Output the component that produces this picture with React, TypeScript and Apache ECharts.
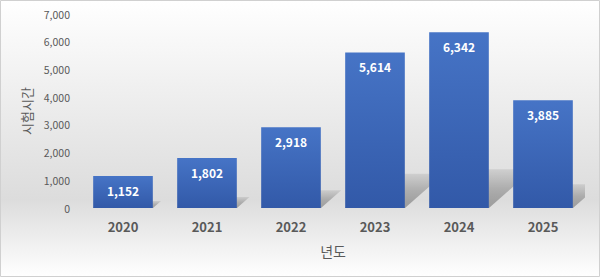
import React, { useEffect, useRef } from "react";
import * as echarts from "echarts";

const years = ["2020", "2021", "2022", "2023", "2024", "2025"];
const hours = [1152, 1802, 2918, 5614, 6342, 3885];
const yTicks = [0, 1000, 2000, 3000, 4000, 5000, 6000, 7000];
const yAxisName = "시험시간";
const xAxisName = "년도";

const FONT = "'Noto Sans CJK KR', 'Noto Sans', sans-serif";

export default function App() {
  const ref = useRef<HTMLDivElement>(null);
  useEffect(() => {
    if (!ref.current) return;
    const chart = echarts.init(ref.current, null, { renderer: "svg" });
    chart.setOption({
      animation: false,
      backgroundColor: new echarts.graphic.LinearGradient(0, 0, 0, 1, [
        { offset: 0, color: "#ffffff" },
        { offset: 0.72, color: "#dcdcdc" },
        { offset: 1, color: "#ffffff" },
      ]),
      graphic: [
        {
          type: "rect",
          shape: { x: 0.5, y: 0.5, width: 599, height: 276 },
          style: { fill: "none", stroke: "#d0d0d0", lineWidth: 1 },
          silent: true,
        },
      ],
      grid: { left: 81, right: 15, top: 14, bottom: 69 },
      xAxis: {
        type: "category",
        data: years,
        axisLine: { show: false },
        axisTick: { show: false },
        axisLabel: {
          color: "#595959",
          fontSize: 13,
          fontWeight: "bold",
          fontFamily: FONT,
          margin: 12,
        },
        name: xAxisName,
        nameLocation: "middle",
        nameGap: 36,
        nameTextStyle: { color: "#595959", fontSize: 14, fontFamily: FONT },
      },
      yAxis: {
        type: "value",
        min: yTicks[0],
        max: yTicks[yTicks.length - 1],
        interval: 1000,
        splitLine: { show: false },
        axisLine: { show: false },
        axisTick: { show: false },
        axisLabel: {
          color: "#595959",
          fontSize: 10.5,
          fontFamily: FONT,
          margin: 11,
          formatter: (v: number) => v.toLocaleString("en-US"),
        },
        name: yAxisName,
        nameLocation: "middle",
        nameGap: 48,
        nameRotate: 90,
        nameTextStyle: { color: "#595959", fontSize: 13, fontFamily: FONT },
      },
      series: [
        {
          type: "custom",
          z: 1,
          clip: true,
          data: hours.map((v, i) => [i, v]),
          renderItem: (params: any, api: any) => {
            const idx = api.value(0);
            const v = api.value(1);
            const base = api.coord([idx, 0]);
            const top = api.coord([idx, v]);
            const size = api.size([1, 0]);
            const bw = size[0] * 0.714;
            const h = base[1] - top[1];
            const x0 = base[0] - bw / 2;
            const x1 = base[0] + bw / 2;
            const y0 = base[1];
            const dy = h * 0.22;
            const dx = h * 0.25;
            return {
              type: "polygon",
              shape: {
                points: [
                  [x0, y0],
                  [x1, y0],
                  [x1 + dx, y0 - dy],
                  [x0 + dx, y0 - dy],
                ],
              },
              style: {
                fill: new echarts.graphic.LinearGradient(0, 0, 0, 1, [
                  { offset: 0, color: "rgba(0,0,0,0.08)" },
                  { offset: 0.5, color: "rgba(0,0,0,0.22)" },
                  { offset: 1, color: "rgba(0,0,0,0.3)" },
                ]),
              },
            };
          },
        },
        {
          type: "bar",
          z: 2,
          data: hours,
          barWidth: "71%",
          itemStyle: {
            color: new echarts.graphic.LinearGradient(0, 0, 0, 1, [
              { offset: 0, color: "#4674c6" },
              { offset: 1, color: "#3259a8" },
            ]),
          },
          label: {
            show: true,
            position: "insideTop",
            distance: 8,
            color: "#ffffff",
            fontSize: 12,
            fontWeight: "bold",
            fontFamily: FONT,
            formatter: (p: any) => Number(p.value).toLocaleString("en-US"),
          },
        },
      ],
    });
    return () => chart.dispose();
  }, []);
  return (
    <div
      ref={ref}
      style={{ position: "fixed", left: 0, top: 0, width: 600, height: 277 }}
    />
  );
}
